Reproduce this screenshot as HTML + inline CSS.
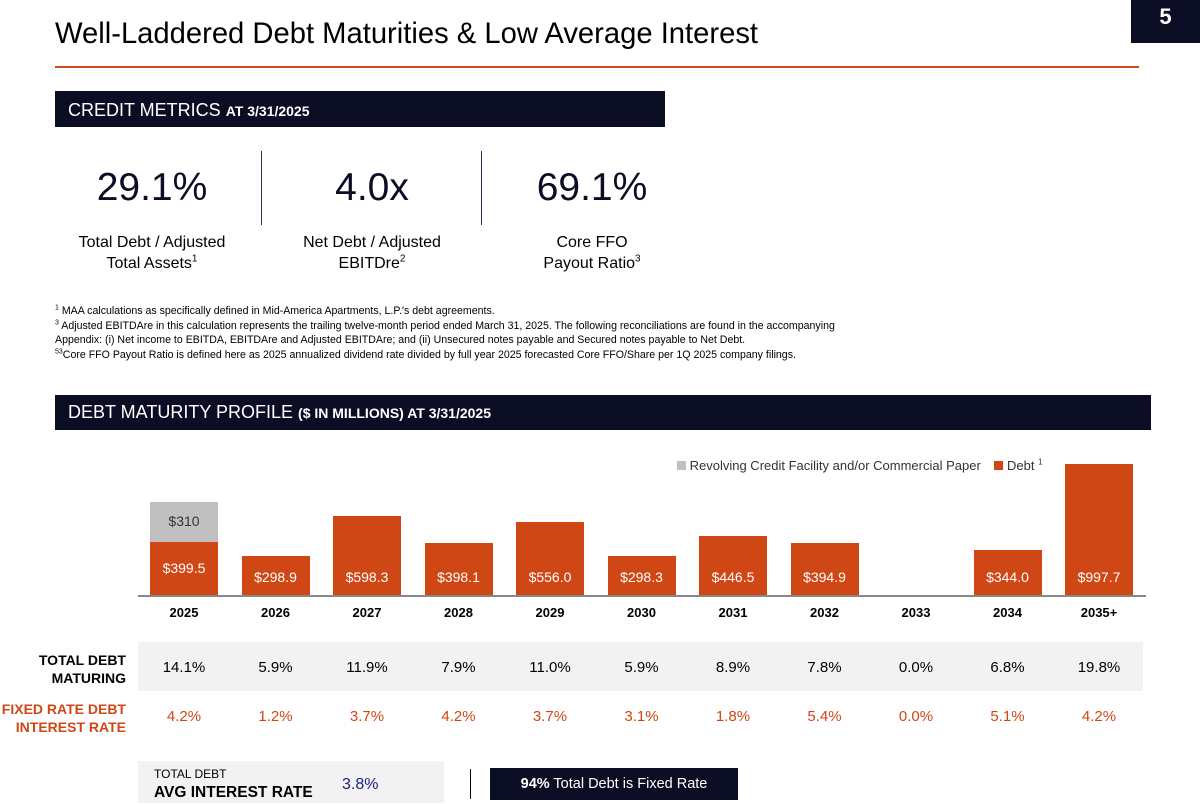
<!DOCTYPE html>
<html><head><meta charset="utf-8">
<style>
body{margin:0;width:1200px;height:803px;background:#fff;position:relative;overflow:hidden;font-family:"Liberation Sans",sans-serif;color:#000}
.a{position:absolute}
.bar{background:#0a0d24;color:#fff}
.c{text-align:center}
.fn{font-family:"Liberation Sans",sans-serif;font-size:10.6px;left:55px;line-height:14.5px}
</style></head><body>
<div class="a" style="left:55px;top:18px;font-size:29.2px;">Well-Laddered Debt Maturities &amp; Low Average Interest</div>
<div class="a bar c" style="left:1131px;top:0;width:69px;height:43px;font:bold 22px 'Liberation Sans',sans-serif;line-height:34px">5</div>
<div class="a" style="left:55px;top:66px;width:1084px;height:2px;background:#d04a1f"></div>

<div class="a bar" style="left:55px;top:91px;width:610px;height:36px;line-height:38px;padding-left:13px;box-sizing:border-box;font-size:18px">CREDIT METRICS <b style="font-size:14px">AT 3/31/2025</b></div>
<div class="a" style="left:261px;top:151px;width:1px;height:74px;background:#2b3560"></div>
<div class="a" style="left:481px;top:151px;width:1px;height:74px;background:#2b3560"></div>
<div class="a c" style="left:52px;top:166px;width:200px;font-size:39px;color:#0a0d24">29.1%</div>
<div class="a c" style="left:272px;top:166px;width:200px;font-size:39px;color:#0a0d24">4.0x</div>
<div class="a c" style="left:492px;top:166px;width:200px;font-size:39px;color:#0a0d24">69.1%</div>
<div class="a c" style="left:52px;top:232px;width:200px;font-size:16px;line-height:21px">Total Debt / Adjusted<br>Total Assets<sup style="font-size:10px;line-height:0">1</sup></div>
<div class="a c" style="left:272px;top:232px;width:200px;font-size:16px;line-height:21px">Net Debt / Adjusted<br>EBITDre<sup style="font-size:10px;line-height:0">2</sup></div>
<div class="a c" style="left:492px;top:232px;width:200px;font-size:16px;line-height:21px">Core FFO<br>Payout Ratio<sup style="font-size:10px;line-height:0">3</sup></div>
<div class="a fn" style="top:304px;width:790px"><sup style="font-size:7px;line-height:0">1</sup> MAA calculations as specifically defined in Mid-America Apartments, L.P.'s debt agreements.<br><sup style="font-size:7px;line-height:0">3</sup> Adjusted EBITDAre in this calculation represents the trailing twelve-month period ended March 31, 2025. The following reconciliations are found in the accompanying Appendix: (i) Net income to EBITDA, EBITDAre and Adjusted EBITDAre; and (ii) Unsecured notes payable and Secured notes payable to Net Debt.<br><sup style="font-size:7px;line-height:0">53</sup>Core FFO Payout Ratio is defined here as 2025 annualized dividend rate divided by full year 2025 forecasted Core FFO/Share per 1Q 2025 company filings.</div>

<div class="a bar" style="left:55px;top:395px;width:1096px;height:35px;line-height:35px;padding-left:13px;box-sizing:border-box;font-size:18px">DEBT MATURITY PROFILE <b style="font-size:14px">($ IN MILLIONS) AT 3/31/2025</b></div>

<div class="a" style="left:677px;top:458px;font-size:13px;color:#333;white-space:nowrap">
<span><span style="display:inline-block;width:9px;height:9px;background:#c0c0c0"></span> Revolving Credit Facility and/or Commercial Paper</span>
<span style="margin-left:10px"><span style="display:inline-block;width:9px;height:9px;background:#d04716"></span> Debt <sup style="font-size:8px">1</sup></span></div>

<div class="a" style="left:138px;top:642px;width:1005px;height:49px;background:#f2f2f2"></div>
<div class="a" style="left:0;width:126px;top:651px;text-align:right;font:bold 14px 'Liberation Sans',sans-serif;line-height:18px">TOTAL DEBT<br>MATURING</div>
<div class="a" style="left:0;width:126px;top:700px;text-align:right;font:bold 14px 'Liberation Sans',sans-serif;line-height:18px;color:#d04716">FIXED RATE DEBT<br>INTEREST RATE</div>

<div id="chart"></div>

<div class="a" style="left:138px;top:761px;width:306px;height:42px;background:#f2f2f2"></div>
<div class="a" style="left:154px;top:767px;font-size:12px;line-height:15px">TOTAL DEBT<br><b style="font-size:15.5px;line-height:22px">AVG INTEREST RATE</b></div>
<div class="a" style="left:342px;top:776px;font-size:16px;color:#1a237e">3.8%</div>
<div class="a" style="left:470px;top:769px;width:1px;height:30px;background:#000"></div>
<div class="a bar c" style="left:490px;top:768px;width:248px;height:32px;line-height:33px;font-size:14.5px"><b>94%</b> Total Debt is Fixed Rate</div>

<script>
const years=["2025","2026","2027","2028","2029","2030","2031","2032","2033","2034","2035+"];
const debt=[399.5,298.9,598.3,398.1,556.0,298.3,446.5,394.9,0,344.0,997.7];
const revolving=[310,0,0,0,0,0,0,0,0,0,0];
const debtLabels=["$399.5","$298.9","$598.3","$398.1","$556.0","$298.3","$446.5","$394.9","","$344.0","$997.7"];
const maturing=["14.1%","5.9%","11.9%","7.9%","11.0%","5.9%","8.9%","7.8%","0.0%","6.8%","19.8%"];
const rates=["4.2%","1.2%","3.7%","4.2%","3.7%","3.1%","1.8%","5.4%","0.0%","5.1%","4.2%"];
const base=595, k=0.1315, x0=150, step=91.5, bw=68;
const xs=i=>x0+i*step, h=v=>v*k;
const c=document.getElementById('chart');
function mk(style,txt){const d=document.createElement('div');d.className='a';d.style.cssText=style;if(txt)d.textContent=txt;c.appendChild(d);return d;}
let ax=mk(`left:138px;top:${base}px;width:1008px;height:2px;background:#888`);


years.forEach((y,i)=>{
  const x=xs(i), hd=h(debt[i]), hr=h(revolving[i]);
  if(hd>0){
    const b=mk(`left:${x}px;top:${base-hd}px;width:${bw}px;height:${hd}px;background:#d04716`);
    
    
    const ty = hr>0 ? base-hd/2-9 : base-26;
    const l=mk(`left:${x}px;width:${bw}px;top:${ty}px;text-align:center;color:#fff;font:14px 'Liberation Sans',sans-serif`,debtLabels[i]);
    
    
  }
  if(hr>0){
    const r=mk(`left:${x}px;top:${base-hd-hr}px;width:${bw}px;height:${hr}px;background:#c0c0c0`);
    
    
    const l=mk(`left:${x}px;width:${bw}px;top:${base-hd-hr/2-9}px;text-align:center;color:#333;font:14px 'Liberation Sans',sans-serif`,'$'+revolving[i]);
    
    
  }
  const t=mk(`left:${x-10}px;width:${bw+20}px;top:${base+10}px;text-align:center;font:bold 13px 'Liberation Sans',sans-serif`,y);
  
  
  const m=mk(`left:${x-10}px;width:${bw+20}px;top:659px;text-align:center;font:15px 'Liberation Sans',sans-serif`,maturing[i]);
  
  
  const r2=mk(`left:${x-10}px;width:${bw+20}px;top:708px;text-align:center;color:#d04716;font:15px 'Liberation Sans',sans-serif`,rates[i]);
  
  
});
</script>
</body></html>
